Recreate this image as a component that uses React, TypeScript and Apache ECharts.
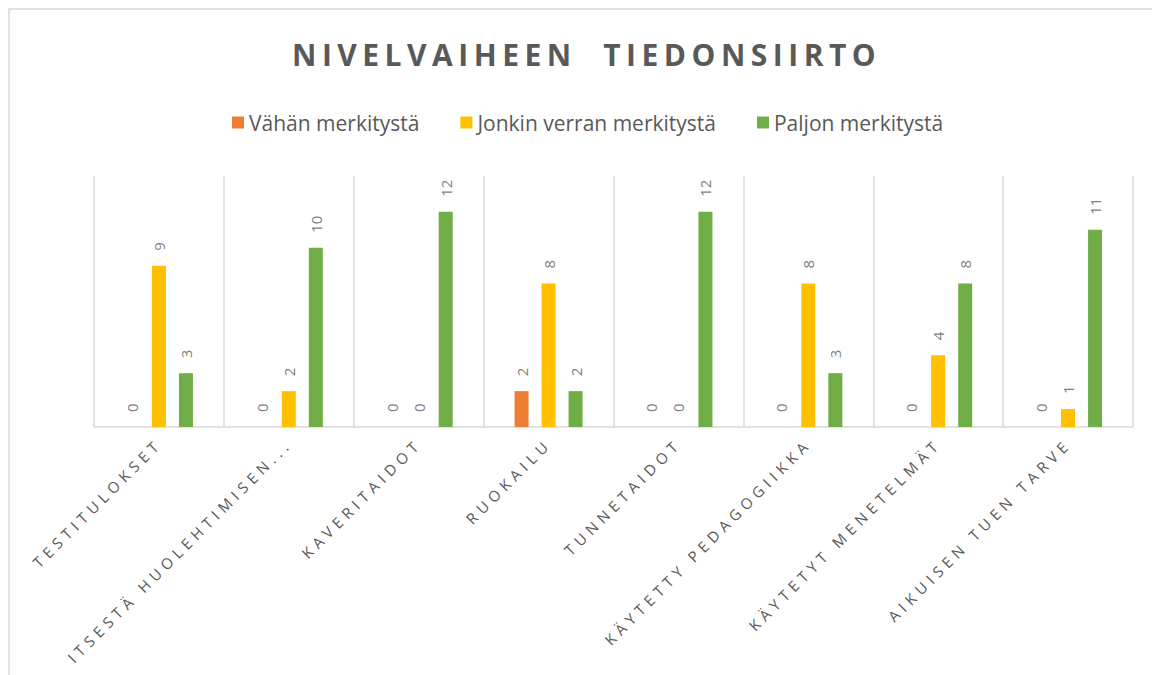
import React, { useEffect, useRef } from "react";
import * as echarts from "echarts";

const categories = [
  "TESTITULOKSET",
  "ITSESTÄ HUOLEHTIMISEN...",
  "KAVERITAIDOT",
  "RUOKAILU",
  "TUNNETAIDOT",
  "KÄYTETTY PEDAGOGIIKKA",
  "KÄYTETYT MENETELMÄT",
  "AIKUISEN TUEN TARVE",
];
const seriesNames = ["Vähän merkitystä", "Jonkin verran merkitystä", "Paljon merkitystä"];
const vahan = [0, 0, 0, 2, 0, 0, 0, 0];
const jonkin = [9, 2, 0, 8, 0, 8, 4, 1];
const paljon = [3, 10, 12, 2, 12, 3, 8, 11];
const colors = ["#ED7D31", "#FFC000", "#70AD47"];

const css = `
#chartbox text[fill="#595958"] { letter-spacing: 5px; }
#chartbox text[fill="#595959"] { letter-spacing: 5.5px; }
`;

export default function App() {
  const ref = useRef<HTMLDivElement>(null);
  useEffect(() => {
    if (!ref.current) return;
    const chart = echarts.init(ref.current, null, { renderer: "svg" });
    const font = "'Open Sans', 'Noto Sans', sans-serif";
    const mk = (name: string, data: number[], color: string) => ({
      name,
      type: "bar",
      data,
      barWidth: 14,
      barGap: "93%",
      itemStyle: { color },
      label: {
        show: true,
        position: "top",
        rotate: 90,
        align: "left",
        verticalAlign: "middle",
        distance: 15,
        color: "#7f7f7f",
        fontSize: 15,
        fontFamily: font,
      },
    });
    chart.setOption({
      animation: false,
      color: colors,
      textStyle: { fontFamily: font },
      title: {
        text: "NIVELVAIHEEN  TIEDONSIIRTO",
        left: 287,
        top: 34,
        textStyle: {
          color: "#595959",
          fontSize: 30,
          fontWeight: "bold",
          fontFamily: font,
        },
      },
      legend: {
        top: 107,
        left: 227,
        itemWidth: 12,
        itemHeight: 12,
        itemGap: 41,
        itemTextGap: 7,
        icon: "rect",
        textStyle: { color: "#595957", fontSize: 21, fontFamily: font },
        data: seriesNames,
      },
      graphic: [
        {
          type: "rect",
          shape: { x: 9, y: 9, width: 1160, height: 680 },
          style: { fill: "none", stroke: "#d9d9d9", lineWidth: 1.5 },
          silent: true,
        },
      ],
      grid: { left: 94, right: 19, top: 176, bottom: 248 },
      xAxis: {
        type: "category",
        data: categories,
        axisLine: { show: true, lineStyle: { color: "#d9d9d9", width: 1.5 } },
        axisTick: { show: false },
        splitLine: { show: true, interval: 0, lineStyle: { color: "#d9d9d9", width: 1.5 } },
        axisLabel: {
          interval: 0,
          rotate: 45,
          margin: 14,
          color: "#595958",
          fontSize: 15,
          fontFamily: font,
        },
      },
      yAxis: {
        type: "value",
        min: 0,
        max: 14,
        show: false,
        splitLine: { show: false },
      },
      series: [
        mk(seriesNames[0], vahan, colors[0]),
        mk(seriesNames[1], jonkin, colors[1]),
        mk(seriesNames[2], paljon, colors[2]),
      ],
    });
    return () => chart.dispose();
  }, []);
  return (
    <>
      <style>{css}</style>
      <div
        id="chartbox"
        ref={ref}
        style={{ position: "absolute", left: 0, top: 0, width: 1152, height: 675, background: "#fff" }}
      />
    </>
  );
}
